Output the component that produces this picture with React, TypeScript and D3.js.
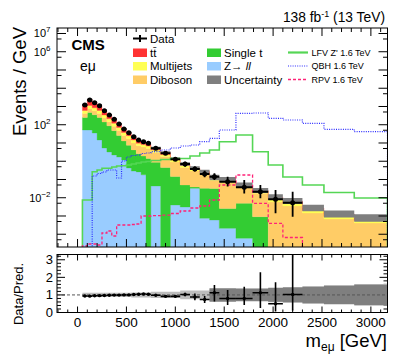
import React, { useRef, useEffect } from "react";
import * as d3 from "d3";

// bin edges in GeV (29 bins)
const binEdges = [50, 100, 150, 200, 250, 300, 350, 400, 450, 500, 550, 600, 650, 700, 750,
  850, 950, 1050, 1150, 1250, 1350, 1450, 1620, 1790, 1950, 2100, 2300, 2520, 2830, 3170];

// stacked backgrounds, events / GeV (bottom of stack first)
const zll = [51.5, 51.5, 35.3, 14.6, 5.3, 3.2, 2.2, 1.7, 1.17, 0.43, 0.29, 0.26, 0.18, 0, 0.044, 0,
  0.004, 0.0031, 0.033, 0.00075, 0.0006, 0.00021, 0.00006, 0, 0, 0, 0, 0, 0];
const singleTop = [198, 423, 315, 238, 136, 84, 45, 24, 11.7, 7.1, 3.9, 2.3, 1.73, 1.4, 0.85, 0.45,
  0.142, 0.047, 0.0059, 0.032, 0.0315, 0.0024, 0.0049, 0.00092, 0, 0, 0, 0, 0];
const diboson = [164, 312, 230, 166, 93, 57.5, 36, 22.7, 12.8, 9.6, 5.9, 4.46, 4.05, 3.53, 2.08, 1.35,
  0.763, 0.404, 0.257, 0.157, 0.056, 0.0641, 0.0301, 0.0166, 0.00584, 0.00353, 0.00146, 0.000684, 0.000413];
const multijets = [190, 362, 267, 193, 108, 66.7, 38.3, 22.2, 11.9, 7.9, 4.7, 2.6, 2.21, 1.83, 1.1, 0.51,
  0.261, 0.13, 0.075, 0.0544, 0.0253, 0.0192, 0.01, 0.005, 0.00217, 0.00131, 0.00054, 0.000255, 0.000153];
const ttbar = [683, 1299, 850, 537, 262, 139, 80, 39.3, 20.9, 11.5, 6.8, 4.43, 3.02, 2.5, 1.17, 0.67,
  0.244, 0.122, 0.061, 0.0331, 0.0152, 0.0115, 0.0048, 0.0024, 0.00297, 0.00179, 0.00074, 0.000347, 0.00021];

// relative uncertainty of the prediction
const uncRel = [0.12, 0.12, 0.12, 0.12, 0.12, 0.12, 0.12, 0.12, 0.12, 0.12, 0.14, 0.14, 0.14, 0.14,
  0.18, 0.18, 0.18, 0.25, 0.25, 0.25, 0.4, 0.4, 0.38, 0.38, 0.42, 0.45, 0.5, 0.55, 0.62];
const uncRelDark = [0, 0, 0, 0, 0, 0, 0, 0, 0, 0, 0, 0, 0, 0, 0, 0, 0, 0, 0, 0,
  0.37, 0.37, 0.35, 0.35, 0.39, 0.42, 0.47, 0.52, 0.58];

// signals
const lfvZp = [0.00752, 0.00752, 0.2675, 0.3313, 0.4106, 0.4106, 0.4837, 0.5487, 0.57, 0.6225, 0.7063,
  0.8013, 0.9091, 0.9683, 1.099, 1.246, 1.414, 1.414, 1.938, 2.83, 4.132, 11.78, 27.43, 3.336, 0.6225,
  0.137, 0.0499, 0.01938, 0.00968];
const qbh = [0, 0, 0.1554, 0.2131, 0.2574, 0.3313, 0.3313, 0.1207, 1.031, 1.708, 2.064, 2.199, 2.657,
  2.83, 3.336, 4.132, 5.318, 6.844, 7.767, 11.78, 18.08, 51.52, 423.6, 440.0, 225.5, 181.9, 120.0, 56.3, 41.6];
const rpv = [2.27e-5, 2.92e-5, 2.92e-5, 2.57e-5, 1.17e-4, 1.51e-4, 8.01e-5, 3.21e-4, 3.21e-4, 3.21e-4,
  3.42e-4, 3.64e-4, 9.99e-4, 9.99e-4, 1.04e-3, 1.13e-3, 1.37e-3, 1.88e-3, 2.74e-3, 3.53e-3, 7.52e-3,
  0.0499, 0.1763, 4.96e-3, 3.98e-4, 6.63e-5, 0, 0, 0];

// data (first 26 bins)
const dataVals = [1208, 2270, 1615, 1105, 588, 342, 199, 110, 58.5, 36.6, 22.1, 14.6, 11.8, 9.6, 5.12,
  2.72, 1.29, 0.706, 0.376, 0.2, 0.142, 0.0757, 0.0373, 0.0214, 0.0082, 0.0053];
const dataErrUp = [0, 0, 0, 0, 0, 0, 0, 0, 0, 0, 0.6, 0.5, 0.5, 0.4, 0.3, 0.2, 0.2, 0.238, 0.139, 0.103,
  0.076, 0.066, 0.057, 0.029, 0.018, 0.016];
const dataErrDn = [0, 0, 0, 0, 0, 0, 0, 0, 0, 0, 0.6, 0.5, 0.5, 0.4, 0.3, 0.2, 0.17, 0.204, 0.102, 0.068,
  0.048, 0.035, 0.02, 0.012, 0.0068, 0.0044];

// ratio panel
const ratioVals = [0.94, 0.93, 0.95, 0.96, 0.97, 0.98, 0.99, 0.99, 1.0, 1.0, 1.02, 1.04, 1.05, 1.04, 0.98,
  0.92, 0.92, 1.02, 0.88, 0.74, 1.12, 0.8, 0.8, 1.12, 0.5, 1.02];
const ratioErrUp = [0.01, 0.01, 0.01, 0.01, 0.01, 0.01, 0.01, 0.02, 0.02, 0.02, 0.02, 0.03, 0.03, 0.03,
  0.04, 0.05, 0.07, 0.1, 0.2, 0.2, 0.45, 0.48, 0.67, 1.17, 1.22, 2.4];
const ratioErrDn = [0.01, 0.01, 0.01, 0.01, 0.01, 0.01, 0.01, 0.02, 0.02, 0.02, 0.02, 0.03, 0.03, 0.03,
  0.04, 0.05, 0.07, 0.1, 0.18, 0.2, 0.49, 0.37, 0.37, 0.86, 0.44, 0.9];

const xTicks = [0, 500, 1000, 1500, 2000, 2500, 3000];
const yLogLabels = [7, 6, 2, -2];
const ratioTicks = [0, 1, 2, 3];

const stackNames = ["Z\u2192 ", "Single t", "Diboson", "Multijets", "t"];
const stackColors = ["#99ccff", "#33cc33", "#ffcc66", "#ffff55", "#ff3333"];

function App() {
  const svgRef = useRef(null);

  useEffect(() => {
    const svg = d3.select(svgRef.current);
    svg.selectAll("*").remove();
    const font = "'Liberation Sans', Arial, Helvetica, sans-serif";

    const L = 57, R = 387.5, T = 28, B = 247, RT = 254.5, RB = 312.5;
    const x = d3.scaleLinear().domain([-210, 3170]).range([L, R]);
    const y = d3.scaleLog().domain([2e-5, 2e7]).range([B, T]);
    const yr = d3.scaleLinear().domain([0, 3.3]).range([RB, RT]);
    const yc = (v) => (v > 0 ? Math.min(y(v), B + 1) : B + 1);
    const nb = binEdges.length - 1;

    const defs = svg.append("defs");
    defs.append("clipPath").attr("id", "clipTop").append("rect")
      .attr("x", L).attr("y", T).attr("width", R - L).attr("height", B - T);
    defs.append("clipPath").attr("id", "clipRatio").append("rect")
      .attr("x", L).attr("y", RT).attr("width", R - L).attr("height", RB - RT);

    // ---- upper panel ----
    const gTop = svg.append("g").attr("clip-path", "url(#clipTop)");
    const band = d3.area().x((d) => d.x).y0((d) => d.y0).y1((d) => d.y1);
    const stepPts = (lo, hi) => {
      const pts = [];
      for (let i = 0; i < lo.length; i++) {
        pts.push({ x: x(binEdges[i]), y0: lo[i], y1: hi[i] });
        pts.push({ x: x(binEdges[i + 1]), y0: lo[i], y1: hi[i] });
      }
      return pts;
    };

    const layers = [zll, singleTop, diboson, multijets, ttbar];
    let run = new Array(nb).fill(0);
    layers.forEach((l, k) => {
      const hi = run.map((v, i) => v + l[i]);
      gTop.append("path")
        .attr("d", band(stepPts(run.map(yc), hi.map(yc))))
        .attr("fill", stackColors[k])
        .attr("stroke", stackColors[k])
        .attr("stroke-width", 0.3);
      run = hi;
    });
    const total = run;

    gTop.append("path")
      .attr("d", band(stepPts(total.map((t, i) => yc(t / (1 + uncRel[i]))), total.map((t, i) => yc(t * (1 + uncRel[i]))))))
      .attr("fill", "#7f7f7f");

    const stepLine = (vals) => {
      let d = `M${x(binEdges[0])},${B + 1}`;
      vals.forEach((v, i) => {
        d += `L${x(binEdges[i])},${yc(v)}L${x(binEdges[i + 1])},${yc(v)}`;
      });
      return d + `L${x(binEdges[nb])},${B + 1}`;
    };
    gTop.append("path").attr("d", stepLine(lfvZp)).attr("fill", "none")
      .attr("stroke", "#55d655").attr("stroke-width", 1.6);
    gTop.append("path").attr("d", stepLine(qbh)).attr("fill", "none")
      .attr("stroke", "#2b2bff").attr("stroke-width", 1.2).attr("stroke-dasharray", "1,1.3");
    gTop.append("path").attr("d", stepLine(rpv)).attr("fill", "none")
      .attr("stroke", "#ff2277").attr("stroke-width", 1.3).attr("stroke-dasharray", "3,2");

    // data
    dataVals.forEach((v, i) => {
      const cx = x((binEdges[i] + binEdges[i + 1]) / 2);
      const cy = y(v);
      gTop.append("line").attr("x1", x(binEdges[i])).attr("x2", x(binEdges[i + 1]))
        .attr("y1", cy).attr("y2", cy).attr("stroke", "#000").attr("stroke-width", 2);
      if (dataErrUp[i] > 0) {
        gTop.append("line").attr("x1", cx).attr("x2", cx)
          .attr("y1", y(v + dataErrUp[i])).attr("y2", yc(v - dataErrDn[i]))
          .attr("stroke", "#000").attr("stroke-width", 1.8);
      }
      gTop.append("circle").attr("cx", cx).attr("cy", cy).attr("r", 2.5).attr("fill", "#000");
    });

    // frame + ticks (upper)
    svg.append("rect").attr("x", L).attr("y", T).attr("width", R - L).attr("height", B - T)
      .attr("fill", "none").attr("stroke", "#000").attr("stroke-width", 1);
    const ticks = svg.append("g").attr("stroke", "#000").attr("stroke-width", 1);
    d3.range(-200, 3170, 100).forEach((v) => {
      const major = v % 500 === 0;
      const len = major ? 8 : 4;
      const xx = x(v);
      ticks.append("line").attr("x1", xx).attr("x2", xx).attr("y1", B).attr("y2", B - len);
      ticks.append("line").attr("x1", xx).attr("x2", xx).attr("y1", T).attr("y2", T + len);
      const rl = major ? 6 : 3;
      ticks.append("line").attr("x1", xx).attr("x2", xx).attr("y1", RB).attr("y2", RB - rl);
      ticks.append("line").attr("x1", xx).attr("x2", xx).attr("y1", RT).attr("y2", RT + rl);
    });
    d3.range(-4, 8).forEach((p) => {
      const yy = y(Math.pow(10, p));
      ticks.append("line").attr("x1", L).attr("x2", L + 9).attr("y1", yy).attr("y2", yy);
      ticks.append("line").attr("x1", R).attr("x2", R - 9).attr("y1", yy).attr("y2", yy);
    });
    d3.range(-5, 7).forEach((p) => {
      const v = 5 * Math.pow(10, p);
      if (v < 2e-5 || v > 2e7) return;
      const yy = y(v);
      ticks.append("line").attr("x1", L).attr("x2", L + 4.5).attr("y1", yy).attr("y2", yy);
      ticks.append("line").attr("x1", R).attr("x2", R - 4.5).attr("y1", yy).attr("y2", yy);
    });
    yLogLabels.forEach((p) => {
      const yy = y(Math.pow(10, p));
      const t = svg.append("text").attr("x", 50.5).attr("y", yy + 4).attr("text-anchor", "end")
        .attr("font-family", font).attr("font-size", 11).text("10");
      t.append("tspan").attr("dy", -5).attr("font-size", 8).text(String(p).replace("-", "\u2212"));
    });

    // ---- ratio panel ----
    const gR = svg.append("g").attr("clip-path", "url(#clipRatio)");
    const ratioBand = (u) => band(stepPts(u.map((e) => yr(1 - e)), u.map((e) => yr(1 + e))));
    gR.append("path").attr("d", ratioBand(uncRel)).attr("fill", "#bdbdbd");
    gR.append("path").attr("d", ratioBand(uncRelDark)).attr("fill", "#7f7f7f");
    gR.append("line").attr("x1", L).attr("x2", R).attr("y1", yr(1)).attr("y2", yr(1))
      .attr("stroke", "#555").attr("stroke-width", 1).attr("stroke-dasharray", "3,2");
    ratioVals.forEach((v, i) => {
      const cx = x((binEdges[i] + binEdges[i + 1]) / 2);
      gR.append("line").attr("x1", x(binEdges[i])).attr("x2", x(binEdges[i + 1]))
        .attr("y1", yr(v)).attr("y2", yr(v)).attr("stroke", "#000").attr("stroke-width", 1.6);
      gR.append("line").attr("x1", cx).attr("x2", cx)
        .attr("y1", yr(v + ratioErrUp[i])).attr("y2", yr(Math.max(0, v - ratioErrDn[i])))
        .attr("stroke", "#000").attr("stroke-width", 1.6);
      gR.append("circle").attr("cx", cx).attr("cy", yr(v)).attr("r", 1.7).attr("fill", "#000");
    });
    svg.append("rect").attr("x", L).attr("y", RT).attr("width", R - L).attr("height", RB - RT)
      .attr("fill", "none").attr("stroke", "#000").attr("stroke-width", 1);
    d3.range(0, 3.3, 0.2).forEach((v) => {
      const major = Math.abs(v - Math.round(v)) < 1e-6;
      const len = major ? 8 : 4;
      const yy = yr(v);
      ticks.append("line").attr("x1", L).attr("x2", L + len).attr("y1", yy).attr("y2", yy);
      ticks.append("line").attr("x1", R).attr("x2", R - len).attr("y1", yy).attr("y2", yy);
    });
    ratioTicks.forEach((v) => {
      svg.append("text").attr("x", 53).attr("y", yr(v) + 4.5).attr("text-anchor", "end")
        .attr("font-family", font).attr("font-size", 13).text(v);
    });
    xTicks.forEach((v) => {
      svg.append("text").attr("x", x(v)).attr("y", 326.5).attr("text-anchor", "middle")
        .attr("font-family", font).attr("font-size", 13.5).text(v);
    });

    // ---- titles ----
    svg.append("text").attr("transform", "rotate(-90)").attr("x", -27).attr("y", 26)
      .attr("text-anchor", "end").attr("font-family", font).attr("font-size", 18.5).text("Events / GeV");
    svg.append("text").attr("transform", "rotate(-90)").attr("x", -294).attr("y", 23)
      .attr("text-anchor", "middle").attr("font-family", font).attr("font-size", 13).text("Data/Pred.");
    const xt = svg.append("text").attr("x", 387).attr("y", 347).attr("text-anchor", "end")
      .attr("font-family", font).attr("font-size", 18.5).text("m");
    xt.append("tspan").attr("dy", 4).attr("font-size", 12).text("e\u03bc");
    xt.append("tspan").attr("dy", -4).text(" [GeV]");

    svg.append("text").attr("x", 71.5).attr("y", 49.5).attr("font-family", font)
      .attr("font-weight", "bold").attr("font-size", 15).text("CMS");
    svg.append("text").attr("x", 80).attr("y", 71).attr("font-family", font)
      .attr("font-size", 14).text("e\u03bc");
    const lumi = svg.append("text").attr("x", 385).attr("y", 22).attr("text-anchor", "end")
      .attr("font-family", font).attr("font-size", 13.8).text("138 fb");
    lumi.append("tspan").attr("dy", -5).attr("font-size", 9).text("-1");
    lumi.append("tspan").attr("dy", 5).text(" (13 TeV)");

    // ---- legend ----
    const rows = [38.5, 52.5, 66, 79.5];
    const lg = svg.append("g").attr("font-family", font);
    lg.append("line").attr("x1", 133).attr("x2", 147).attr("y1", rows[0]).attr("y2", rows[0])
      .attr("stroke", "#000").attr("stroke-width", 2);
    lg.append("line").attr("x1", 140).attr("x2", 140).attr("y1", rows[0] - 3.5).attr("y2", rows[0] + 3.5)
      .attr("stroke", "#000").attr("stroke-width", 2);
    lg.append("text").attr("x", 150).attr("y", rows[0] + 4).attr("font-size", 11.5).text("Data");
    const boxes = [
      { col: 0, row: 1, k: 4 }, { col: 0, row: 2, k: 3 }, { col: 0, row: 3, k: 2 },
      { col: 1, row: 1, k: 1 }, { col: 1, row: 2, k: 0 },
    ];
    boxes.forEach(({ col, row, k }) => {
      const bx = col === 0 ? 133 : 207;
      lg.append("rect").attr("x", bx).attr("y", rows[row] - 4).attr("width", 14).attr("height", 8.5)
        .attr("fill", stackColors[k]);
      const t = lg.append("text").attr("x", bx + 17).attr("y", rows[row] + 4).attr("font-size", 11.5)
        .text(stackNames[k]);
      if (k === 4) t.append("tspan").text("t\u0304");
      if (k === 0) t.append("tspan").attr("font-style", "italic").text("ll");
    });
    lg.append("rect").attr("x", 207).attr("y", rows[3] - 4).attr("width", 14).attr("height", 8.5)
      .attr("fill", "#7f7f7f");
    lg.append("text").attr("x", 224).attr("y", rows[3] + 4).attr("font-size", 11.5).text("Uncertainty");

    const sig = [
      { name: "LFV Z' 1.6 TeV", color: "#55d655", w: 2.2, dash: null },
      { name: "QBH 1.6 TeV", color: "#2b2bff", w: 1.2, dash: "1,1.3" },
      { name: "RPV 1.6 TeV", color: "#ff2277", w: 1.3, dash: "3,2" },
    ];
    sig.forEach((s, i) => {
      const yy = rows[i + 1];
      const ln = lg.append("line").attr("x1", 288).attr("x2", 308).attr("y1", yy).attr("y2", yy)
        .attr("stroke", s.color).attr("stroke-width", s.w);
      if (s.dash) ln.attr("stroke-dasharray", s.dash);
      lg.append("text").attr("x", 311.5).attr("y", yy + 3.3).attr("font-size", 9).text(s.name);
    });
  }, []);

  return (
    <svg ref={svgRef} width={407} height={355}
      style={{ position: "absolute", left: 0, top: 0, background: "#fff" }} />
  );
}

export default App;
